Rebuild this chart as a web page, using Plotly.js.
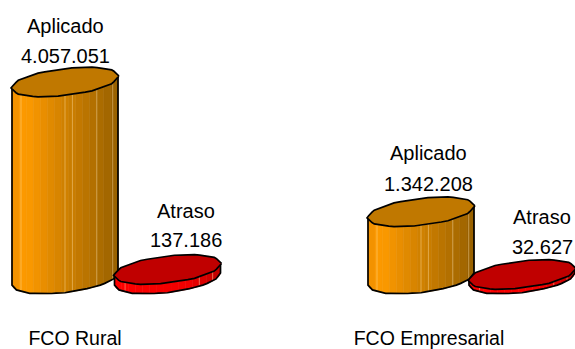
<!DOCTYPE html>
<html><head><meta charset="utf-8">
<script src="https://cdn.plot.ly/plotly-3.0.1.min.js"></script>
<style>html,body{margin:0;padding:0;background:#fff}#c{width:575px;height:349px}</style>
</head><body><div id="c"></div>
<script>
const categories = ["FCO Rural", "FCO Empresarial"];
const aplicado = [4057051, 1342208];
const atraso = [137186, 32627];
const aplicadoLabels = ["4.057.051", "1.342.208"];
const atrasoLabels = ["137.186", "32.627"];
const seriesNames = ["Aplicado", "Atraso"];

// Layout geometry (pixels in the 575x349 frame)
const W = 575, H = 349, marginB = 29;
const floorPx = 279, floorLift = 3, pxPerUnit = 194 / 4057051;
const rx = 53, ry = 13.5, tilt = 6;
const centers = { aplicado: [65, 421], atraso: [167.5, 522] };
const catTicks = [75, 429];
const orangeStops = [[0,[238,142,0]],[0.12,[255,155,0]],[0.45,[214,132,0]],[0.8,[175,110,0]],[1,[150,96,0]]];
const redStops = [[0,[255,0,0]],[0.7,[240,0,0]],[1,[190,0,0]]];

const yOf = px => (floorPx - floorLift - px) / pxPerUnit;
const yRange = [yOf(H - marginB), yOf(0)];

function mix(stops, f) {
  for (let i = 1; i < stops.length; i++) if (f <= stops[i][0]) {
    const a = stops[i-1], b = stops[i], k = (f - a[0]) / (b[0] - a[0]);
    return 'rgb(' + a[1].map((c, j) => Math.round(c + (b[1][j] - c) * k)).join(',') + ')';
  }
  return 'rgb(' + stops[stops.length-1][1].join(',') + ')';
}
const rim = (cx, cy, u, side) => [cx + rx * u, cy + side * ry * Math.sqrt(Math.max(0, 1 - u * u)) - tilt * u];
function ring(cx, cy) {
  const pts = [], n = 48;
  for (let i = 0; i <= n; i++) {
    const t = i / n * 2 * Math.PI, bump = 1 + 0.018 * Math.cos(t * 12);
    pts.push([cx + rx * bump * Math.cos(t), cy + ry * bump * Math.sin(t) - tilt * Math.cos(t)]);
  }
  return pts;
}
const traces = [];
function poly(pts, fill, lineColor, lineW) {
  traces.push({ type: 'scatter', mode: 'lines', x: pts.map(p => p[0]), y: pts.map(p => yOf(p[1])),
    fill: 'toself', fillcolor: fill, line: { color: lineColor || fill, width: lineW === undefined ? 0.6 : lineW },
    hoverinfo: 'skip', showlegend: false });
}
function line(pts, color, w) {
  traces.push({ type: 'scatter', mode: 'lines', x: pts.map(p => p[0]), y: pts.map(p => yOf(p[1])),
    line: { color: color, width: w }, hoverinfo: 'skip', showlegend: false });
}
function cylinder(cx, value, stops, topColor, glints) {
  const h = floorLift + value * pxPerUnit, cyTop = floorPx - h, cyBase = floorPx;
  const strips = 15;
  for (let i = 0; i < strips; i++) {
    const u0 = -1 + 2 * i / strips, u1 = -1 + 2 * (i + 1) / strips, pts = [];
    for (let j = 0; j <= 4; j++) pts.push(rim(cx, cyTop, u0 + (u1 - u0) * j / 4, 1));
    for (let j = 4; j >= 0; j--) pts.push(rim(cx, cyBase, u0 + (u1 - u0) * j / 4, 1));
    pts.push(pts[0]);
    poly(pts, mix(stops, (i + 0.5) / strips));
  }
  glints.forEach(u => line([rim(cx, cyTop, u, 1), rim(cx, cyBase, u, 1)], 'rgba(255,225,170,0.55)', 0.8));
  const lower = [];
  for (let j = 0; j <= 24; j++) {
    const u = -1 + 2 * j / 24, b = 1 + 0.02 * Math.cos(j * 1.6);
    const p = rim(cx, cyBase, u, 1);
    lower.push([p[0], cyBase + (p[1] - cyBase) * b]);
  }
  const outline = [[cx - rx, cyTop + tilt]].concat(lower).concat([[cx + rx, cyTop - tilt]]);
  line(outline, '#000', 1.7);
  poly(ring(cx, cyTop), topColor, '#000', 1.7);
}

categories.forEach((c, i) => cylinder(centers.aplicado[i], aplicado[i], orangeStops, '#c07800', [-0.83, 0.0, 0.14, 0.6, 0.9]));
categories.forEach((c, i) => cylinder(centers.atraso[i], atraso[i], redStops, '#c00000', [-0.8, 0.6, 0.85]));

const font = { family: 'Liberation Sans, Arial, sans-serif', size: 20, color: '#000' };
const labelText = (x, px, text) => ({ x, y: yOf(px), xref: 'x', yref: 'y', text, showarrow: false, font,
  xanchor: 'center', yanchor: 'middle' });
const annotations = [
  labelText(65, 26, seriesNames[0]), labelText(65, 56, aplicadoLabels[0]),
  labelText(186, 211, seriesNames[1]), labelText(186, 240, atrasoLabels[0]),
  labelText(428, 153, seriesNames[0]), labelText(428, 184, aplicadoLabels[1]),
  labelText(542, 217, seriesNames[1]), labelText(542, 247, atrasoLabels[1])
];
Plotly.newPlot('c', traces, {
  width: W, height: H, margin: { l: 0, r: 0, t: 0, b: marginB, pad: 0 },
  paper_bgcolor: '#fff', plot_bgcolor: '#fff', showlegend: false, annotations,
  xaxis: { range: [0, W], showgrid: false, zeroline: false, showline: false, tickmode: 'array',
    tickvals: catTicks, ticktext: categories, ticks: 'outside', ticklen: 0.5, tickcolor: '#fff', tickfont: { family: font.family, size: 19.5, color: '#000' }, fixedrange: true },
  yaxis: { range: yRange, showgrid: false, zeroline: false, showline: false, showticklabels: false, ticks: '', fixedrange: true }
}, { displayModeBar: false, staticPlot: true });
</script></body></html>
